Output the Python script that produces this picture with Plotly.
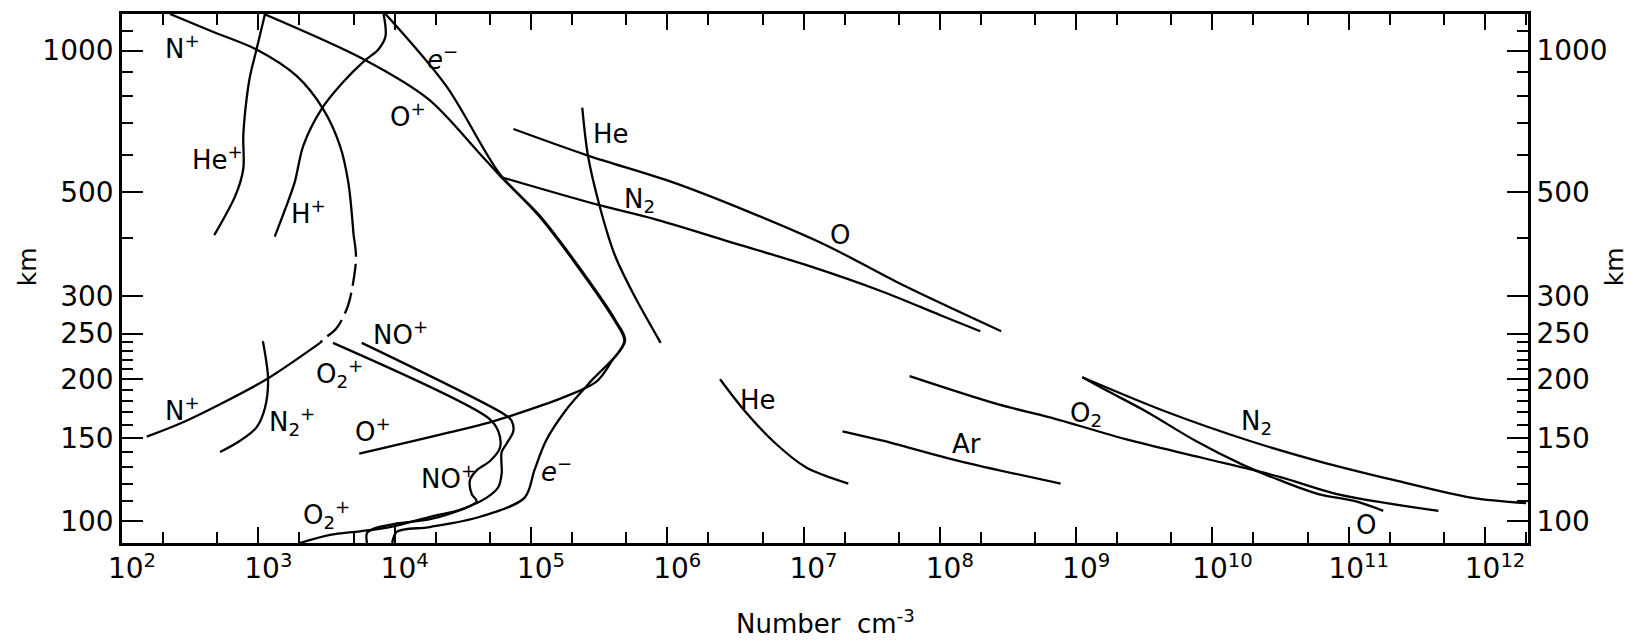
import math
import plotly.graph_objects as go

# ---------------- data: number density (cm^-3) vs altitude (km) ----------------
# Ions
np_upper_n = [2.25e2, 4.68e2, 9.7e2, 1.91e3, 3.0e3, 3.97e3, 4.57e3, 5.0e3]
np_upper_h = [1196, 1095, 1005, 883, 750, 628, 525, 405]
np_dash_n = [5.0e3, 5.2e3, 5.14e3, 4.57e3, 3.76e3, 3.0e3, 2.84e3]
np_dash_h = [405, 370, 344, 288, 257, 243, 239]
np_lower_n = [2.84e3, 1.15e3, 5.24e2, 2.67e2, 1.52e2]
np_lower_h = [239, 200, 177, 161, 151]

hep_n = [1.12e3, 9.7e2, 8.7e2, 8.2e2, 7.76e2, 7.76e2, 6.8e2, 4.75e2]
hep_h = [1196, 1005, 883, 788, 659, 560, 492, 405]

hp_n = [8.3e3, 8.57e3, 7.6e3, 5.97e3, 4.16e3, 2.9e3, 2.14e3, 1.85e3, 1.58e3, 1.32e3]
hp_h = [1196, 1072, 1005, 950, 855, 750, 628, 525, 461, 402]

op_n = [1.1e3, 5.97e3, 1.77e4, 4.12e4, 5.92e4, 1.13e5, 2.16e5, 4.13e5, 4.85e5,
        3.94e5, 3.04e5, 1.73e5, 7.03e4, 5.0e4, 5.5e3]
op_h = [1196, 957, 788, 608, 542, 447, 350, 266, 241,
        219, 198, 183, 167, 162, 139]

el_n = [8.57e3, 2.39e4, 5.95e4, 1.15e5, 2.2e5, 4.2e5, 4.9e5, 2.62e5, 1.78e5,
        1.29e5, 1.06e5, 9.0e4, 4.24e4, 1.82e4, 1.04e4, 9.6e3]
el_h = [1196, 841, 545, 447, 350, 266, 241, 195, 171,
        148, 128, 112, 102, 97, 94.8, 89.7]

o2p_n = [3.53e3, 4.93e4, 5.77e4, 5.93e4, 5.01e4, 4.0e4, 3.57e4, 3.68e4, 4.0e4,
         3.18e4, 1.82e4, 9.25e3, 5.57e3, 3.36e3, 2.02e3]
o2p_h = [239, 165, 155, 143, 134, 128, 122, 114, 110,
         106, 102, 97, 95, 93.3, 89.7]

nop_n = [5.74e3, 6.68e4, 7.23e4, 7.43e4, 6.64e4, 6.1e4, 6.1e4, 5.77e4, 4.74e4,
         3.19e4, 1.82e4, 1.04e4, 7.18e3, 6.27e3, 6.27e3]
nop_h = [239, 167, 163, 155, 146, 140, 126, 118, 112,
         106, 100.8, 98.7, 96.5, 94.2, 89.7]

n2p_n = [1.08e3, 1.18e3, 1.12e3, 9.7e2, 7.35e2, 5.24e2]
n2p_h = [241, 200, 174, 158, 148, 140]

# Neutrals
he_up_n = [2.38e5, 2.62e5, 3.18e5, 4.13e5, 5.7e5, 8.95e5]
he_up_h = [756, 598, 469, 367, 302, 239]

o_up_n = [7.45e4, 2.62e5, 1.09e6, 3.97e6, 1.45e7, 5.26e7, 2.82e8]
o_up_h = [681, 598, 525, 454, 386, 318, 253]

n2_up_n = [5.93e4, 3.18e5, 7.87e5, 2.87e6, 1.04e7, 3.81e7, 1.0e8, 1.98e8]
n2_up_h = [539, 469, 439, 392, 350, 307, 274, 253]

he_lo_n = [2.44e6, 3.72e6, 6.24e6, 1.04e7, 2.13e7]
he_lo_h = [200, 171, 146, 130, 120]

ar_n = [1.93e7, 3.81e7, 1.39e8, 7.69e8]
ar_h = [155, 148, 134, 120]

o2_n = [6.0e7, 2.65e8, 6.43e8, 2.34e9, 8.53e9, 3.11e10, 8.2e10, 4.55e11]
o2_h = [203, 177, 166, 149, 136, 124, 114, 105]

n2_lo_n = [1.11e9, 4.48e9, 1.86e10, 5.96e10, 2.16e11, 7.89e11, 2.0e12]
n2_lo_h = [202, 171, 148, 134, 122, 112, 109]

o_lo_n = [1.11e9, 1.69e9, 3.24e9, 7.5e9, 1.63e10, 3.11e10, 5.96e10, 1.13e11, 1.79e11]
o_lo_h = [202, 189, 171, 148, 132, 122, 114, 110, 105]

# Axis ticks
x_major = [1e2, 1e3, 1e4, 1e5, 1e6, 1e7, 1e8, 1e9, 1e10, 1e11, 1e12]
x_labels = ["10<sup>%d</sup>" % k for k in range(2, 13)]
x_minor = [m * 10 ** k for k in range(2, 13) for m in (2, 5)]
y_major = [100, 150, 200, 250, 300, 500, 1000]
y_labels = ["100", "150", "200", "250", "300", "500", "1000"]
y_minor = [110, 120, 130, 140, 160, 170, 180, 190, 210, 220, 230, 240,
           400, 600, 700, 800, 900, 1100]

# Curve labels: (text, density, km)
labels = [
    ("N<sup>+</sup>", 2.8e2, 1018),
    ("He<sup>+</sup>", 5.06e2, 590),
    ("H<sup>+</sup>", 2.32e3, 454),
    ("O<sup>+</sup>", 1.25e4, 731),
    ("<i>e</i><sup>−</sup>", 2.26e4, 966),
    ("He", 3.87e5, 666),
    ("N<sub>2</sub>", 6.3e5, 481),
    ("O", 1.85e7, 406),
    ("NO<sup>+</sup>", 1.11e4, 251),
    ("O<sub>2</sub><sup>+</sup>", 3.97e3, 206),
    ("N<sup>+</sup>", 2.8e2, 173),
    ("N<sub>2</sub><sup>+</sup>", 1.77e3, 163),
    ("O<sup>+</sup>", 6.95e3, 156),
    ("NO<sup>+</sup>", 2.5e4, 124),
    ("O<sub>2</sub><sup>+</sup>", 3.14e3, 103),
    ("<i>e</i><sup>−</sup>", 1.55e5, 128),
    ("He", 4.63e6, 181),
    ("Ar", 1.58e8, 146),
    ("O<sub>2</sub>", 1.18e9, 168),
    ("N<sub>2</sub>", 2.12e10, 162),
    ("O", 1.34e11, 98),
]

FONT = "DejaVu Sans"
LW = 2.3

fig = go.Figure()

def add(n, h, dash="solid", yaxis="y"):
    fig.add_trace(go.Scatter(x=n, y=h, mode="lines", yaxis=yaxis,
                             line=dict(color="black", width=LW, dash=dash,
                                       shape="spline", smoothing=0.9),
                             hoverinfo="skip", showlegend=False))

add(np_upper_n, np_upper_h)
add(np_dash_n, np_dash_h, dash="22px,7px")
add(np_lower_n, np_lower_h)
add(hep_n, hep_h)
add(hp_n, hp_h)
add(op_n, op_h)
add(el_n, el_h)
add(o2p_n, o2p_h)
add(nop_n, nop_h)
add(n2p_n, n2p_h)
add(he_up_n, he_up_h)
add(o_up_n, o_up_h)
add(n2_up_n, n2_up_h)
add(he_lo_n, he_lo_h)
add(ar_n, ar_h, yaxis="y2")
add(o2_n, o2_h)
add(n2_lo_n, n2_lo_h)
add(o_lo_n, o_lo_h)

annotations = []
for txt, n, h in labels:
    annotations.append(dict(x=math.log10(n), y=math.log10(h), xref="x", yref="y",
                            text=txt, showarrow=False,
                            font=dict(family=FONT, size=26, color="black"),
                            xanchor="center", yanchor="middle"))

annotations += [
    dict(x=-0.067, y=0.5226, xref="paper", yref="paper", text="km", textangle=-90,
         showarrow=False, font=dict(family=FONT, size=25, color="black"),
         xanchor="center", yanchor="middle"),
    dict(x=1.0616, y=0.5226, xref="paper", yref="paper", text="km", textangle=-90,
         showarrow=False, font=dict(family=FONT, size=25, color="black"),
         xanchor="center", yanchor="middle"),
    dict(x=0.5, y=-0.1485, xref="paper", yref="paper", text="Number  cm<sup>-3</sup>",
         showarrow=False, font=dict(family=FONT, size=26, color="black"),
         xanchor="center", yanchor="middle"),
]

yrange = [math.log10(89.7), math.log10(1196)]
common_y = dict(type="log", range=yrange, tickmode="array", tickvals=y_major,
                ticktext=y_labels, ticks="inside", ticklen=21, tickwidth=2.2,
                tickcolor="black", showline=True, linewidth=2.6, linecolor="black",
                showgrid=False, zeroline=False,
                tickfont=dict(family=FONT, size=28, color="black"),
                minor=dict(tickmode="array", tickvals=y_minor, ticks="inside",
                           ticklen=11, tickwidth=2.2, tickcolor="black", showgrid=False),
                ticklabelstandoff=0)

fig.update_layout(
    width=1650, height=641,
    margin=dict(l=122, r=122, t=11, b=98),
    paper_bgcolor="white", plot_bgcolor="white",
    showlegend=False,
    xaxis=dict(type="log", range=[2, 12.315], tickmode="array", tickvals=x_major,
               ticktext=x_labels, ticks="inside", ticklen=16, tickwidth=2.2,
               tickcolor="black", showline=True, linewidth=2.6, linecolor="black",
               mirror="ticks", showgrid=False, zeroline=False,
               tickfont=dict(family=FONT, size=28, color="black"),
               minor=dict(tickmode="array", tickvals=x_minor, ticks="inside",
                          ticklen=11, tickwidth=2.2, tickcolor="black", showgrid=False),
               ticklabelshift=10, ticklabelstandoff=-1),
    yaxis=dict(side="left", **common_y),
    yaxis2=dict(side="right", overlaying="y", **common_y),
    annotations=annotations,
)

fig.write_html("out.html")
